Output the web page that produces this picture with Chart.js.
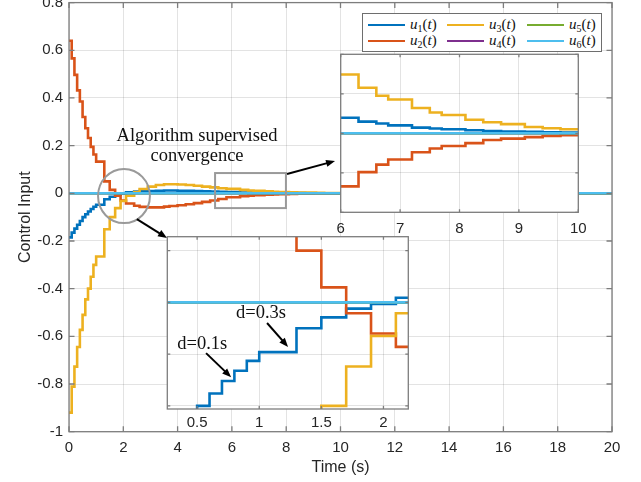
<!DOCTYPE html>
<html>
<head>
<meta charset="utf-8">
<script src="https://cdn.jsdelivr.net/npm/chart.js@4.4.0/dist/chart.umd.min.js"></script>
<style>
  html, body { margin: 0; padding: 0; background: #fff; }
  #wrap { position: relative; width: 641px; height: 482px; overflow: hidden; }
  #wrap canvas { position: absolute; }
  #legend { position: absolute; left: 362px; top: 13px; width: 240px; height: 39px;
            background: #fff; border: 1px solid #6e6e6e; box-sizing: border-box; }
  .lg-line { position: absolute; width: 37px; height: 2.5px; }
  .lg-text { position: absolute; font-family: 'Liberation Serif', serif; font-size: 15px; color: #111; line-height: 16px; white-space: nowrap; }
  .lg-text .sub { font-style: normal; font-size: 10px; position: relative; top: 3px; }
  .note { position: absolute; font-family: 'Liberation Serif', serif; font-size: 18.5px; line-height: 20px;
          color: #111; text-align: center; white-space: nowrap; }
</style>
</head>
<body>
<div id="wrap">
  <canvas id="mainChart" width="641" height="482" style="left:0;top:0"></canvas>
  <canvas id="lateChart" width="260" height="190" style="left:330px;top:50px"></canvas>
  <canvas id="earlyChart" width="265" height="205" style="left:155px;top:230px"></canvas>
  <div id="legend"></div>
  <div class="note" style="left:97px;top:125px;width:200px">Algorithm supervised<br>convergence</div>
</div>
<script>
// sample instants (zero-order hold, each value holds until the next instant)
const stepTimes = [0, 0.1, 0.2, 0.3, 0.4, 0.5, 0.6, 0.7, 0.8, 0.9, 1.0,
  1.3, 1.5, 1.7, 1.9, 2.1,
  2.4, 2.6, 2.9, 3.2, 3.5, 3.7, 4.0, 4.3, 4.6, 4.9, 5.2, 5.5, 5.8,
  6.3, 6.6, 6.8, 7.2, 7.5, 7.7, 8.1, 8.4, 8.7, 9.1, 9.4, 9.7,
  10.0, 10.4, 10.7, 11.0, 20];

const u1 = [-0.185, -0.165, -0.148, -0.132, -0.116, -0.1, -0.088, -0.076, -0.066, -0.0565, -0.048,
  -0.025, -0.0145, -0.006, -0.0015, 0.0045,
  0.007, 0.009, 0.010, 0.011, 0.0115, 0.0115, 0.011, 0.0105, 0.0095, 0.0085, 0.0075, 0.0063, 0.0049,
  0.0037, 0.0031, 0.0025, 0.0018, 0.0015, 0.0013, 0.00095, 0.00075, 0.00056, 0.00044, 0.0003, 0.00025,
  0.0002, 0.0001, 0.00005, 0, 0];

const u2 = [0.64, 0.566, 0.497, 0.432, 0.385, 0.32, 0.273, 0.232, 0.195, 0.163, 0.133,
  0.05, 0.0145, -0.0105, -0.03, -0.043,
  -0.052, -0.057, -0.059, -0.059, -0.056, -0.053, -0.05, -0.046, -0.041, -0.036, -0.03, -0.024, -0.0168,
  -0.0123, -0.0099, -0.0083, -0.006, -0.0048, -0.004, -0.0031, -0.0021, -0.0017, -0.0012, -0.00085, -0.0006,
  -0.0004, -0.0002, -0.0001, 0, 0];

const u3 = [-0.92, -0.811, -0.727, -0.645, -0.573, -0.51, -0.445, -0.4, -0.35, -0.3, -0.265,
  -0.151, -0.1, -0.062, -0.0325, -0.0105,
  0.005, 0.018, 0.028, 0.035, 0.038, 0.038, 0.037, 0.035, 0.032, 0.028, 0.025, 0.0215, 0.0186,
  0.0144, 0.0119, 0.0107, 0.008, 0.0066, 0.0058, 0.0043, 0.0035, 0.0029, 0.002, 0.0016, 0.0013,
  0.0009, 0.0005, 0.0002, 0, 0];

// u4..u6 stay at zero the whole run
const flatTimes = [0, 20];
const u4 = [0, 0];
const u5 = [0, 0];
const u6 = [0, 0];

const seriesIndex = ['1', '2', '3', '4', '5', '6'];
const seriesColors = ['#0072BD', '#D95319', '#EDB120', '#7E2F8E', '#77AC30', '#4DBEEE'];

// tick values
const mainXTicks = [0, 2, 4, 6, 8, 10, 12, 14, 16, 18, 20];
const mainYTicks = [-1, -0.8, -0.6, -0.4, -0.2, 0, 0.2, 0.4, 0.6, 0.8];
const lateXTicks = [6, 7, 8, 9, 10];
const lateYTicks = [-0.025, -0.0125, 0, 0.0125, 0.025];
const earlyXTicks = [0.5, 1, 1.5, 2];
const earlyYTicks = [-0.1, -0.05, 0, 0.05];

const FONT = "'Liberation Sans', Arial, Helvetica, sans-serif";
const TEXT = '#262626';
const GRID = 'rgba(38,38,38,0.13)';
const BOX = '#7d7d7d';

function buildDatasets(width) {
  const series = [[stepTimes, u1], [stepTimes, u2], [stepTimes, u3],
                  [flatTimes, u4], [flatTimes, u5], [flatTimes, u6]];
  return series.map(([ts, vs], i) => ({
    label: 'u' + seriesIndex[i],
    data: ts.map((t, k) => ({ x: t, y: vs[k] })),
    borderColor: seriesColors[i],
    borderWidth: width,
    stepped: true,
    pointRadius: 0,
    fill: false,
    order: 6 - i
  }));
}

function fixTicks(values) {
  return scale => { scale.ticks = values.map(v => ({ value: v })); };
}

// keep the plot box where we want it, labels may overflow
function fitHeight(h) {
  return s => { s.height = h; s.paddingLeft = 0; s.paddingRight = 0; };
}
function fitWidth(w) {
  return s => { s.width = w; s.paddingTop = 0; s.paddingBottom = 0; };
}

// MATLAB-like box with inward tick marks on all four sides
const axesBox = {
  id: 'axesBox',
  beforeDraw(chart, args, opts) {
    if (!opts.fill) return;
    const { ctx, chartArea: a } = chart;
    ctx.save();
    ctx.fillStyle = '#fff';
    ctx.fillRect(a.left, a.top, a.width, a.height);
    ctx.restore();
  },
  afterDatasetsDraw(chart, args, opts) {
    const { ctx, chartArea: a, scales: { x, y } } = chart;
    const L = opts.tick;
    ctx.save();
    ctx.strokeStyle = BOX;
    ctx.lineWidth = 1.3;
    ctx.beginPath();
    x.ticks.forEach(t => {
      const px = x.getPixelForValue(t.value);
      ctx.moveTo(px, a.bottom); ctx.lineTo(px, a.bottom - L);
      ctx.moveTo(px, a.top); ctx.lineTo(px, a.top + L);
    });
    y.ticks.forEach(t => {
      const py = y.getPixelForValue(t.value);
      ctx.moveTo(a.left, py); ctx.lineTo(a.left + L, py);
      ctx.moveTo(a.right, py); ctx.lineTo(a.right - L, py);
    });
    ctx.stroke();
    ctx.strokeRect(a.left, a.top, a.width, a.height);
    ctx.restore();
  }
};

function drawArrow(ctx, x1, y1, x2, y2) {
  const ang = Math.atan2(y2 - y1, x2 - x1);
  const c = Math.cos(ang), s = Math.sin(ang);
  const head = 9, half = 3.6;
  ctx.save();
  ctx.strokeStyle = '#000';
  ctx.fillStyle = '#000';
  ctx.lineWidth = 2;
  ctx.beginPath();
  ctx.moveTo(x1, y1);
  ctx.lineTo(x2 - head * 0.7 * c, y2 - head * 0.7 * s);
  ctx.stroke();
  ctx.beginPath();
  ctx.moveTo(x2, y2);
  ctx.lineTo(x2 - head * c + half * s, y2 - head * s - half * c);
  ctx.lineTo(x2 - head * c - half * s, y2 - head * s + half * c);
  ctx.closePath();
  ctx.fill();
  ctx.restore();
}

// annotation geometry, in data units of the chart it is drawn on
const circleMark = { t0: 1.07, t1: 2.98, v0: -0.125, v1: 0.102 };
const boxMark = { t0: 5.38, t1: 7.99, v0: -0.062, v1: 0.085 };
const mainArrows = [
  [8.03, 0.081, 9.8, 0.1355],
  [2.5, -0.108, 3.61, -0.187]
];
const earlyArrows = [
  [0.572, -0.049, 0.774, -0.0723],
  [1.063, -0.0199, 1.232, -0.043]
];
const earlyLabels = [
  ['d=0.1s', 0.541, -0.0405],
  ['d=0.3s', 1.014, -0.0108]
];

const mainNotes = {
  id: 'mainNotes',
  afterDraw(chart) {
    const { ctx, scales: { x, y } } = chart;
    ctx.save();
    ctx.strokeStyle = '#9a9a9a';
    ctx.lineWidth = 2;
    const cx = x.getPixelForValue((circleMark.t0 + circleMark.t1) / 2);
    const cy = y.getPixelForValue((circleMark.v0 + circleMark.v1) / 2);
    const rx = (x.getPixelForValue(circleMark.t1) - x.getPixelForValue(circleMark.t0)) / 2;
    const ry = (y.getPixelForValue(circleMark.v0) - y.getPixelForValue(circleMark.v1)) / 2;
    ctx.beginPath();
    ctx.ellipse(cx, cy, rx, ry, 0, 0, Math.PI * 2);
    ctx.stroke();
    const bx = x.getPixelForValue(boxMark.t0), by = y.getPixelForValue(boxMark.v1);
    ctx.strokeRect(bx, by, x.getPixelForValue(boxMark.t1) - bx, y.getPixelForValue(boxMark.v0) - by);
    ctx.restore();
    mainArrows.forEach(([a, b, c, d]) =>
      drawArrow(ctx, x.getPixelForValue(a), y.getPixelForValue(b), x.getPixelForValue(c), y.getPixelForValue(d)));
  }
};

const earlyNotes = {
  id: 'earlyNotes',
  afterDraw(chart) {
    const { ctx, scales: { x, y } } = chart;
    earlyArrows.forEach(([a, b, c, d]) =>
      drawArrow(ctx, x.getPixelForValue(a), y.getPixelForValue(b), x.getPixelForValue(c), y.getPixelForValue(d)));
    ctx.save();
    ctx.fillStyle = '#111';
    ctx.font = "18.5px 'Liberation Serif', serif";
    ctx.textAlign = 'center';
    ctx.textBaseline = 'middle';
    earlyLabels.forEach(([txt, t, v]) => ctx.fillText(txt, x.getPixelForValue(t), y.getPixelForValue(v)));
    ctx.restore();
  }
};

const tickFont = { family: FONT, size: 15 };
const fmt = v => String(Math.round(v * 10) / 10);

// main axes
new Chart(document.getElementById('mainChart'), {
  type: 'line',
  data: { datasets: buildDatasets(2.6) },
  options: {
    responsive: false, animation: false, devicePixelRatio: 1,
    layout: { padding: { left: 0, top: 2.6, right: 29, bottom: 0 } },
    plugins: { legend: { display: false }, tooltip: { enabled: false }, axesBox: { tick: 5.5, fill: false } },
    scales: {
      x: {
        type: 'linear', min: 0, max: 20,
        afterBuildTicks: fixTicks(mainXTicks),
        afterFit: fitHeight(50.3),
        grid: { color: GRID, drawTicks: false }, border: { display: false },
        ticks: { font: tickFont, color: TEXT, padding: 7, maxRotation: 0, callback: v => String(v) },
        title: { display: true, text: 'Time (s)', font: { family: FONT, size: 16 }, color: TEXT, padding: { top: 0, bottom: 4.4 } }
      },
      y: {
        type: 'linear', min: -1, max: 0.8,
        afterBuildTicks: fixTicks(mainYTicks),
        afterFit: fitWidth(69),
        grid: { color: GRID, drawTicks: false }, border: { display: false },
        ticks: { font: tickFont, color: TEXT, padding: 6, callback: fmt },
        title: { display: true, text: 'Control Input', font: { family: FONT, size: 16 }, color: TEXT, padding: { top: 16, bottom: 0 } }
      }
    }
  },
  plugins: [axesBox, mainNotes]
});

function insetOptions(xr, yr, xt, yt, pad, xHeight, labelPad) {
  return {
    responsive: false, animation: false, devicePixelRatio: 1,
    layout: { padding: pad },
    plugins: { legend: { display: false }, tooltip: { enabled: false }, axesBox: { tick: 3, fill: true } },
    scales: {
      x: {
        type: 'linear', min: xr[0], max: xr[1],
        afterBuildTicks: fixTicks(xt),
        afterFit: fitHeight(xHeight),
        grid: { color: GRID, drawTicks: false }, border: { display: false },
        ticks: { font: tickFont, color: TEXT, padding: labelPad, maxRotation: 0, callback: v => String(v) }
      },
      y: {
        type: 'linear', min: yr[0], max: yr[1],
        afterBuildTicks: fixTicks(yt),
        afterFit: fitWidth(0),
        grid: { color: GRID, drawTicks: false }, border: { display: false },
        ticks: { display: false }
      }
    }
  };
}

// zoom on the late part (6 s .. 10 s)
new Chart(document.getElementById('lateChart'), {
  type: 'line',
  data: { datasets: buildDatasets(2.6) },
  options: insetOptions([6, 10], [-0.025, 0.025], lateXTicks, lateYTicks,
    { left: 10.7, top: 4.3, right: 11.7, bottom: 0 }, 27.7, 8),
  plugins: [axesBox]
});

// zoom on the early part (around the circled region)
new Chart(document.getElementById('earlyChart'), {
  type: 'line',
  data: { datasets: buildDatasets(2.6) },
  options: insetOptions([0.26, 2.2], [-0.103, 0.0635], earlyXTicks, earlyYTicks,
    { left: 12.3, top: 6.7, right: 11.7, bottom: 0 }, 26, 5),
  plugins: [axesBox, earlyNotes]
});

// legend laid out in 3 columns, filled column by column
const legend = document.getElementById('legend');
const colLeft = [5, 84, 164];
const rowMid = [11, 27];
seriesIndex.forEach((k, i) => {
  const col = Math.floor(i / 2), row = i % 2;
  const line = document.createElement('div');
  line.className = 'lg-line';
  line.style.background = seriesColors[i];
  line.style.left = colLeft[col] + 'px';
  line.style.top = (rowMid[row] - 1.25) + 'px';
  legend.appendChild(line);
  const txt = document.createElement('div');
  txt.className = 'lg-text';
  txt.style.left = (colLeft[col] + 42) + 'px';
  txt.style.top = (rowMid[row] - 9) + 'px';
  txt.innerHTML = '<i>u</i><span class="sub">' + k + '</span>(<i>t</i>)';
  legend.appendChild(txt);
});
</script>
</body>
</html>
